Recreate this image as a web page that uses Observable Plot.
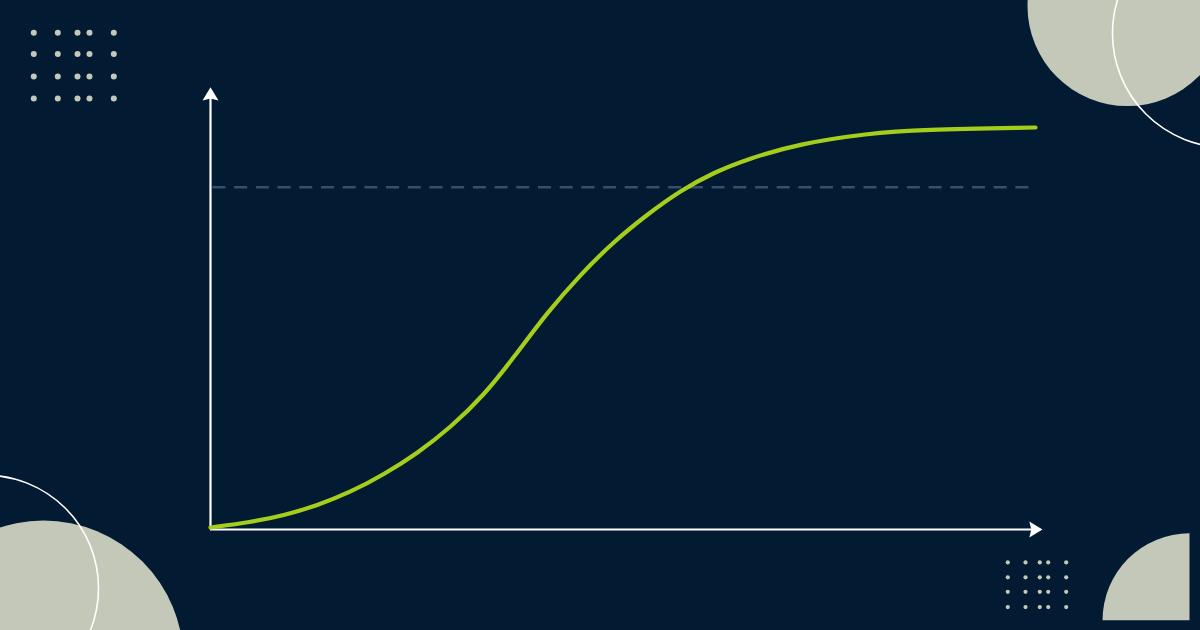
<!DOCTYPE html>
<html>
<head>
<meta charset="utf-8">
<script src="https://cdn.jsdelivr.net/npm/d3@7"></script>
<script src="https://cdn.jsdelivr.net/npm/@observablehq/plot@0.6"></script>
<style>
  html, body { margin: 0; padding: 0; background: #021a32; overflow: hidden; }
  #chart svg { display: block; }
</style>
</head>
<body>
<div id="chart"></div>
<script>
// S-curve (growth) values, x and y in 0–100 chart units
const curveX = [0, 4.85, 8.88, 12.93, 16.97, 21.0, 25.05, 29.09, 33.13, 36.76, 40.81, 44.85, 48.88, 52.93, 56.97, 61.0, 65.05, 71.52, 79.64, 86.06, 100];
const curveY = [0.5, 1.82, 3.48, 5.97, 9.28, 13.68, 18.91, 25.37, 33.33, 42.79, 53.98, 63.43, 71.64, 78.36, 84.33, 88.81, 92.16, 96.02, 98.51, 99.5, 100];

// dashed reference level
const refLevel = 85.15;
const refStart = 0.3;
const refEnd = 99.4;

// axis extents (chart units)
const xAxisEnd = 100.85;
const yAxisEnd = 110.0;

// decorative dot grids (chart units)
const gridTLx = [-21.42, -18.51, -16.12, -14.67, -11.72];
const gridTLy = [123.6, 118.3, 112.7, 107.2];
const gridBRx = [96.64, 98.79, 100.52, 101.54, 103.72];
const gridBRy = [-8.2, -11.9, -15.5, -19.3];

// decorative discs and rings (chart units)
const discX = [111.15, -20.24];
const discY = [130.2, -32.6];
const discR = [100, 140];
const ringX = [123.15, -27.27];
const ringY = [123.4, -14.6];
const ringR = [114, 113];
const quarterX = [118.67];
const quarterY = [-22.6];

const curve = curveX.map((x, i) => ({x, y: curveY[i]}));
const gridTL = gridTLy.flatMap(y => gridTLx.map(x => ({x, y})));
const gridBR = gridBRy.flatMap(y => gridBRx.map(x => ({x, y})));
const discs = discX.map((x, i) => ({x, y: discY[i], r: discR[i]}));
const rings = ringX.map((x, i) => ({x, y: ringY[i], r: ringR[i]}));
const quarters = quarterX.map((x, i) => ({x, y: quarterY[i]}));

const BG = "#021a32";
const SAGE = "#c4c8b8";

const quarterSymbol = {
  draw(ctx, size) {
    const r = Math.sqrt(size / Math.PI);
    ctx.moveTo(0, 0);
    ctx.lineTo(-r, 0);
    ctx.arc(0, 0, r, Math.PI, 1.5 * Math.PI);
    ctx.closePath();
  }
};
const arrowUp = {
  draw(ctx, size) {
    const r = Math.sqrt(size / Math.PI);
    ctx.moveTo(0, 0);
    ctx.lineTo(-r, 1.65 * r);
    ctx.lineTo(0, 1.4 * r);
    ctx.lineTo(r, 1.65 * r);
    ctx.closePath();
  }
};
const arrowRight = {
  draw(ctx, size) {
    const r = Math.sqrt(size / Math.PI);
    ctx.moveTo(0, 0);
    ctx.lineTo(-1.65 * r, -r);
    ctx.lineTo(-1.4 * r, 0);
    ctx.lineTo(-1.65 * r, r);
    ctx.closePath();
  }
};

const chart = Plot.plot({
  width: 1200,
  height: 630,
  margin: 0,
  style: {background: BG, overflow: "hidden"},
  x: {domain: [0, 100], range: [210, 1035], axis: null},
  y: {domain: [0, 100], range: [529, 127], axis: null},
  r: {type: "identity"},
  marks: [
    Plot.dot(discs, {x: "x", y: "y", r: "r", fill: SAGE, stroke: "none"}),
    Plot.dot(quarters, {x: "x", y: "y", r: 87, symbol: quarterSymbol, fill: SAGE, stroke: "none"}),
    Plot.dot(rings, {x: "x", y: "y", r: "r", fill: "none", stroke: "#ffffff", strokeWidth: 1.6}),
    Plot.dot(gridTL, {x: "x", y: "y", r: 3, fill: SAGE, stroke: "none"}),
    Plot.dot(gridBR, {x: "x", y: "y", r: 2.1, fill: SAGE, stroke: "none"}),
    Plot.ruleY([refLevel], {x1: refStart, x2: refEnd, stroke: "#3a4d6b", strokeWidth: 2.5, strokeDasharray: "13,8.7"}),
    Plot.ruleX([0], {y1: 0, y2: yAxisEnd - 2, stroke: "#ffffff", strokeWidth: 2.2}),
    Plot.ruleY([0], {x1: 0, x2: xAxisEnd - 1, stroke: "#ffffff", strokeWidth: 2.2}),
    Plot.dot([{x: 0, y: yAxisEnd}], {x: "x", y: "y", r: 8, symbol: arrowUp, fill: "#ffffff", stroke: "none"}),
    Plot.dot([{x: xAxisEnd, y: 0}], {x: "x", y: "y", r: 8, symbol: arrowRight, fill: "#ffffff", stroke: "none"}),
    Plot.line(curve, {x: "x", y: "y", curve: "basis", stroke: "#a5cd1b", strokeWidth: 4.2, strokeLinecap: "round"})
  ]
});
document.getElementById("chart").append(chart);
</script>
</body>
</html>
